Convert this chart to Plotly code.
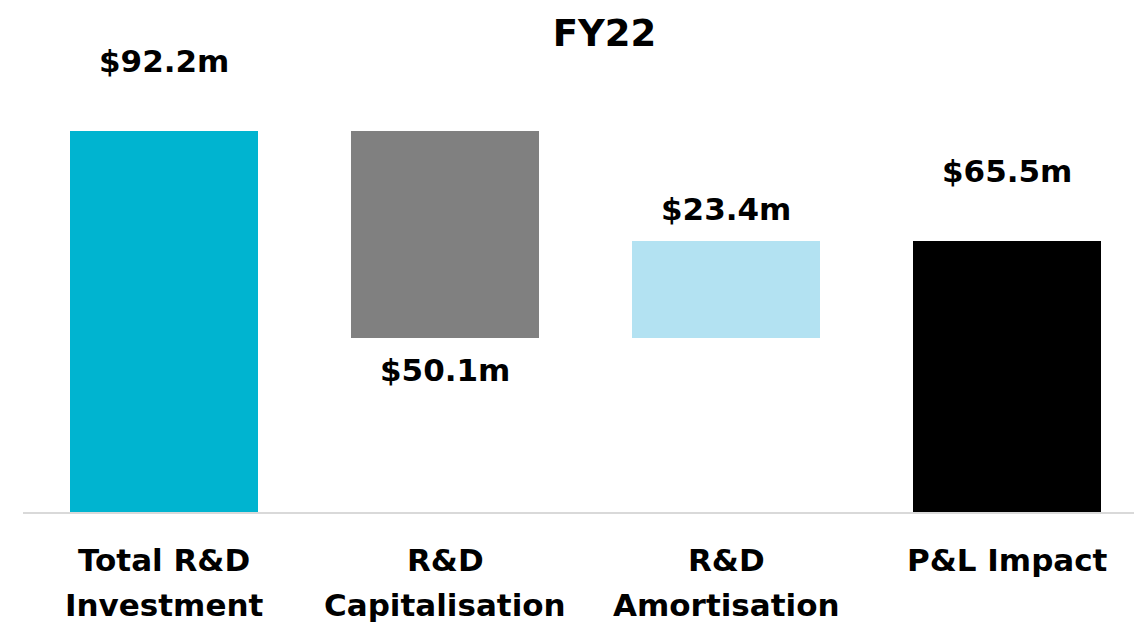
import plotly.graph_objects as go

# FY22 R&D bridge: total investment -> capitalised -> amortised -> P&L impact
categories = ["Total R&D Investment", "R&D Capitalisation", "R&D Amortisation", "P&L Impact"]
tick_lines = [["Total R&D", "Investment"], ["R&D", "Capitalisation"], ["R&D", "Amortisation"], ["P&L Impact"]]
values = [92.2, 50.1, 23.4, 65.5]
label_text = ["$92.2m", "$50.1m", "$23.4m", "$65.5m"]
colors = ["#00B4D0", "#808080", "#B3E2F2", "#000000"]

# floating bar bases: capitalisation hangs from the total, amortisation rises from that level
total, capit, amort, pl = values
bases = [0, total - capit, total - capit, 0]
tops = [b + v for b, v in zip(bases, values)]
xpos = list(range(len(categories)))

FONT = "DejaVu Sans"

fig = go.Figure(
    go.Bar(
        x=xpos,
        y=values,
        base=bases,
        marker=dict(color=colors, line=dict(width=0)),
        width=0.67,
        hoverinfo="skip",
    )
)

# value labels: above for totals/increase, below for the decrease
label_y = [tops[0], bases[1], tops[2], tops[3]]
label_shift = [70, -32, 32, 70]
for x, y, t, s in zip(xpos, label_y, label_text, label_shift):
    fig.add_annotation(
        x=x, y=y, text=t, showarrow=False, yshift=s,
        xanchor="center", yanchor="middle",
        font=dict(family=FONT, size=31, color="#000000", weight="bold"),
    )

# category labels below the axis, one annotation per line
for x, lines in zip(xpos, tick_lines):
    for i, line in enumerate(lines):
        fig.add_annotation(
            x=x, xref="x", y=0, yref="paper", text=line, showarrow=False,
            xanchor="center", yanchor="middle", yshift=-48 - 45 * i,
            font=dict(family=FONT, size=31, color="#000000", weight="bold"),
        )

fig.update_layout(
    width=1134,
    height=622,
    margin=dict(l=23, r=0, t=0, b=110),
    paper_bgcolor="white",
    plot_bgcolor="white",
    showlegend=False,
    bargap=0,
    title=dict(
        text="FY22", xref="container", yref="container",
        x=604.5 / 1134, y=1 - 33 / 622, xanchor="center", yanchor="middle",
        font=dict(family=FONT, size=37, color="#000000", weight="bold"),
    ),
    xaxis=dict(
        range=[-0.502, 3.452], showgrid=False, zeroline=False,
        showticklabels=False, ticks="",
        showline=True, linecolor="#D9D9D9", linewidth=2,
    ),
    yaxis=dict(
        range=[0, 123.9], showgrid=False, zeroline=False,
        showticklabels=False, ticks="", showline=False,
    ),
)

fig.write_html("out.html")
